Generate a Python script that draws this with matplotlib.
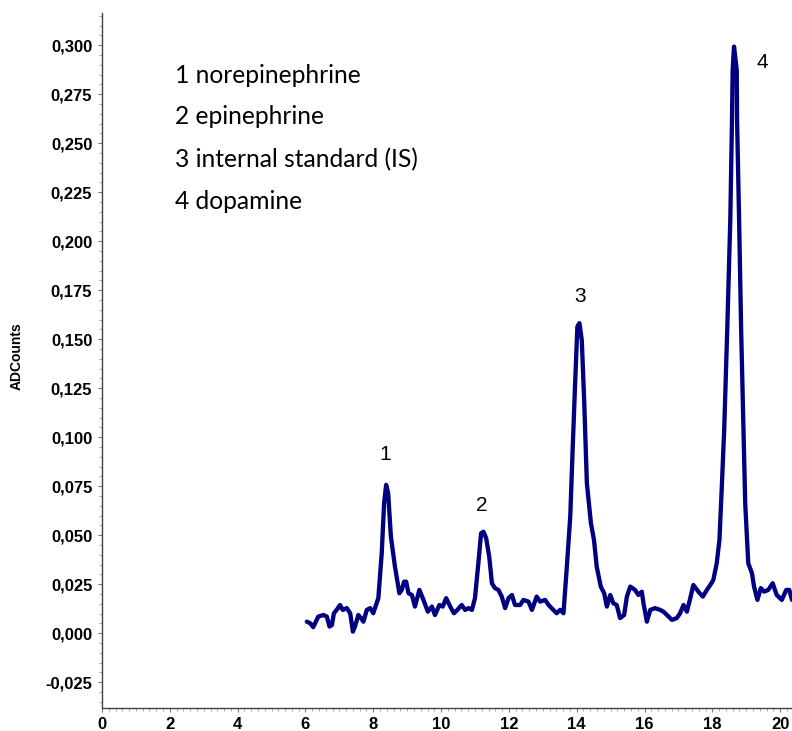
import matplotlib
matplotlib.use("Agg")
import matplotlib.pyplot as plt
from matplotlib.ticker import MultipleLocator, FuncFormatter

# retention time (min)
time_min = [
    6.04, 6.14, 6.23, 6.38, 6.53, 6.63, 6.71, 6.78, 6.84, 6.92, 7.02, 7.10, 7.22, 7.32,
    7.40, 7.46, 7.56, 7.64, 7.71, 7.81, 7.91, 8.00, 8.15, 8.25, 8.32, 8.38, 8.44, 8.52,
    8.64, 8.77, 8.84, 8.91, 8.97, 9.04, 9.14, 9.23, 9.36, 9.46, 9.61, 9.73, 9.82, 9.95,
    10.05, 10.15, 10.27, 10.38, 10.48, 10.61, 10.71, 10.81, 10.91, 11.00, 11.10, 11.18,
    11.25, 11.33, 11.42, 11.50, 11.59, 11.69, 11.79, 11.89, 11.99, 12.09, 12.18, 12.33,
    12.43, 12.58, 12.68, 12.82, 12.92, 13.07, 13.17, 13.31, 13.41, 13.51, 13.61, 13.71,
    13.81, 13.88, 13.95, 14.02, 14.08, 14.15, 14.22, 14.30, 14.42, 14.51, 14.59, 14.71,
    14.81, 14.89, 14.99, 15.08, 15.18, 15.28, 15.40, 15.48, 15.58, 15.72, 15.82, 15.92,
    15.97, 16.07, 16.17, 16.31, 16.46, 16.56, 16.71, 16.81, 16.95, 17.05, 17.15, 17.25,
    17.35, 17.44, 17.59, 17.72, 17.84, 17.94, 18.03, 18.13, 18.21, 18.28, 18.35, 18.44,
    18.53, 18.58, 18.60, 18.64, 18.72, 18.73, 18.79, 18.85, 18.92, 18.97, 19.06, 19.17,
    19.23, 19.33, 19.43, 19.53, 19.65, 19.78, 19.90, 20.05, 20.18, 20.27, 20.35,
]

# detector signal (ADCounts)
signal = [
    0.0059, 0.0051, 0.0031, 0.0085, 0.0093, 0.0085, 0.0034, 0.0042, 0.0102, 0.0119, 0.0144, 0.0119, 0.0128, 0.0102,
    0.0008, 0.0034, 0.0093, 0.0077, 0.0059, 0.0119, 0.0128, 0.0102, 0.0179, 0.0408, 0.0663, 0.0757, 0.0714, 0.0493,
    0.0340, 0.0204, 0.0221, 0.0263, 0.0263, 0.0204, 0.0195, 0.0136, 0.0221, 0.0179, 0.0110, 0.0136, 0.0093, 0.0144,
    0.0136, 0.0179, 0.0136, 0.0102, 0.0119, 0.0144, 0.0119, 0.0128, 0.0119, 0.0179, 0.0357, 0.0510,
    0.0518, 0.0485, 0.0391, 0.0255, 0.0230, 0.0221, 0.0187, 0.0128, 0.0179, 0.0195, 0.0144, 0.0144,
    0.0170, 0.0161, 0.0119, 0.0187, 0.0161, 0.0170, 0.0144, 0.0119, 0.0102, 0.0119, 0.0102, 0.0340,
    0.0595, 0.0935, 0.1258, 0.1564, 0.1582, 0.1496, 0.1190, 0.0765, 0.0561, 0.0476, 0.0340, 0.0238,
    0.0204, 0.0136, 0.0195, 0.0153, 0.0144, 0.0077, 0.0093, 0.0187, 0.0238, 0.0221, 0.0195, 0.0212,
    0.0153, 0.0059, 0.0119, 0.0128, 0.0119, 0.0110, 0.0085, 0.0068, 0.0077, 0.0102, 0.0144, 0.0110,
    0.0179, 0.0246, 0.0212, 0.0187, 0.0221, 0.0246, 0.0272, 0.0357, 0.0476, 0.0748, 0.1037, 0.1548,
    0.2109, 0.2619, 0.2874, 0.2993, 0.2874, 0.2619, 0.2109, 0.1548, 0.1037, 0.0663, 0.0357, 0.0306,
    0.0238, 0.0170, 0.0230, 0.0212, 0.0221, 0.0255, 0.0195, 0.0170, 0.0221, 0.0221, 0.0170,
]

peak_labels = ["1", "2", "3", "4"]
peak_label_x = [8.35, 11.21, 14.10, 19.47]
peak_label_y = [0.091, 0.065, 0.172, 0.291]

legend_lines = ["1 norepinephrine", "2 epinephrine", "3 internal standard (IS)", "4 dopamine"]
legend_y = [0.2848, 0.2634, 0.2415, 0.2204]
legend_x = 2.16

x_ticks = [0, 2, 4, 6, 8, 10, 12, 14, 16, 18, 20]

fig = plt.figure(figsize=(7.92, 7.31), dpi=100)
ax = fig.add_axes([102 / 792, (731 - 707.7) / 731, 1 - 102 / 792, (707.7 - 12.7) / 731])

ax.plot(time_min, signal, color="#000080", lw=3.1, solid_joinstyle="round", solid_capstyle="round")

ax.set_xlim(0, 20.35)
ax.set_ylim(-0.038, 0.3166)

ax.set_xticks(x_ticks)
ax.xaxis.set_minor_locator(MultipleLocator(0.2))
ax.yaxis.set_major_locator(MultipleLocator(0.025))
ax.yaxis.set_minor_locator(MultipleLocator(0.005))
ax.yaxis.set_major_formatter(FuncFormatter(lambda v, p: f"{v:.3f}".replace(".", ",").replace("-0,000", "0,000")))

for s in ["top", "right"]:
    ax.spines[s].set_visible(False)
for s in ["left", "bottom"]:
    ax.spines[s].set_color("#444444")
    ax.spines[s].set_linewidth(1.0)

ax.tick_params(axis="both", which="major", direction="out", length=3, width=0.8, color="#777777", pad=4)
ax.tick_params(axis="both", which="minor", direction="out", length=2, width=0.6, color="#999999")
for lab in ax.get_yticklabels():
    lab.set_fontfamily("Liberation Sans")
    lab.set_fontweight("bold")
    lab.set_fontsize(12)
for lab in ax.get_xticklabels():
    lab.set_fontfamily("Liberation Sans")
    lab.set_fontweight("bold")
    lab.set_fontsize(12)

fig.text(17 / 792, (731 - 356) / 731, "ADCounts", rotation=90, ha="center", va="center",
         fontfamily="Liberation Sans", fontweight="bold", fontsize=10)

for t, x, y in zip(peak_labels, peak_label_x, peak_label_y):
    ax.text(x, y, t, ha="center", va="center", fontsize=15, fontfamily="Liberation Sans")

for t, y in zip(legend_lines, legend_y):
    ax.text(legend_x, y, t, ha="left", va="center", fontsize=17.7, fontfamily="Lato")

fig.savefig("out.png", dpi=100)
